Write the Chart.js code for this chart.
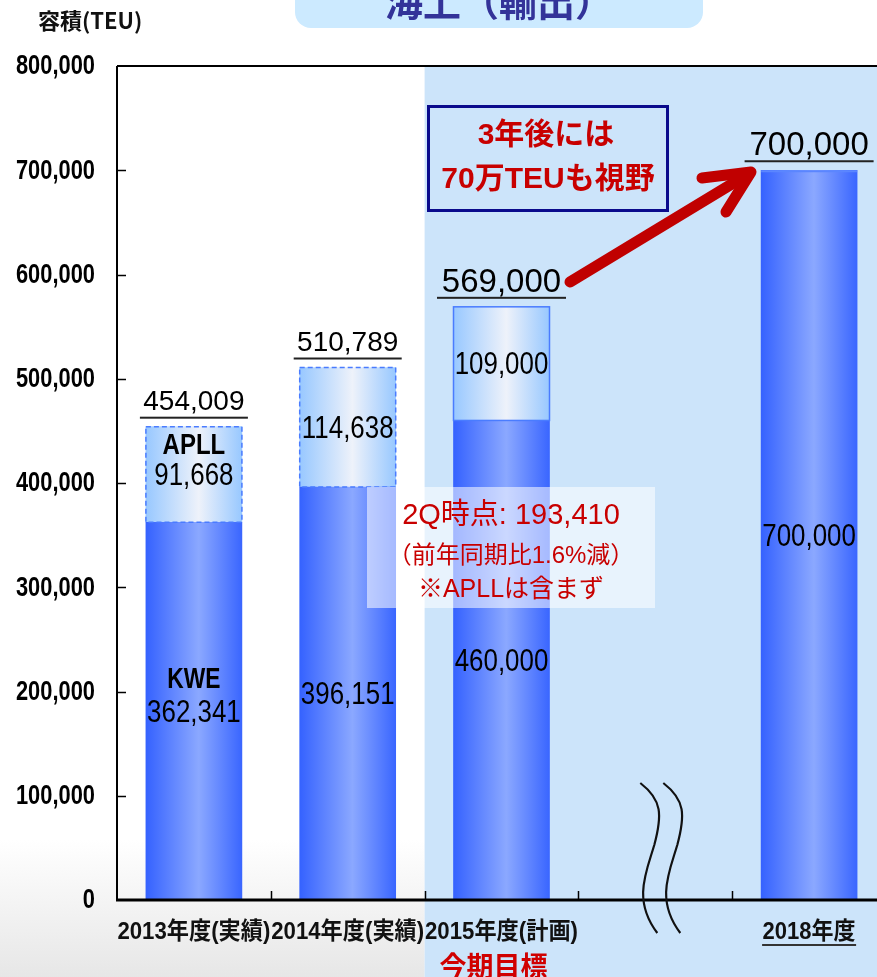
<!DOCTYPE html>
<html>
<head>
<meta charset="utf-8">
<script src="https://cdn.jsdelivr.net/npm/chart.js@4"></script>
<style>
  html, body { margin: 0; padding: 0; overflow: hidden; background: #fff; }
  #wrap { width: 900px; height: 977px; }
</style>
</head>
<body>
<div id="wrap"><canvas id="chart" width="900" height="977"></canvas></div>
<script>
const categories = ["2013年度(実績)", "2014年度(実績)", "2015年度(計画)", "", "2018年度"];
const kweValues = [362341, 396151, 460000, null, 700000];
const apllValues = [91668, 114638, 109000, null, null];
const totalValues = [454009, 510789, 569000, null, 700000];
const yMax = 800000;
const yStep = 100000;
const planIndex = 2;
const breakIndex = 3;

const SANS = '"Liberation Sans", "Noto Sans CJK JP", sans-serif';
const CJK = '"Noto Sans CJK JP", sans-serif';
const RED = "#c80000";

function fmt(v) {
  return v.toLocaleString("en-US");
}

function barGradient(ctx, stops) {
  const chart = ctx.chart;
  if (!chart.chartArea) return stops[1];
  const x = chart.scales.x.getPixelForValue(ctx.dataIndex);
  const g = chart.ctx.createLinearGradient(x - 48, 0, x + 48, 0);
  g.addColorStop(0, stops[0]);
  g.addColorStop(0.55, stops[1]);
  g.addColorStop(1, stops[2]);
  return g;
}

// draws text squeezed horizontally by sx (the original uses a condensed face)
function ntext(c, str, x, y, font, color, align, sx) {
  c.save();
  c.font = font;
  c.fillStyle = color;
  c.textAlign = align || "center";
  c.textBaseline = "middle";
  c.translate(x, y);
  c.scale(sx || 1, 1);
  c.fillText(str, 0, 0);
  c.restore();
}

// squeezes text so that it is at most `width` wide
function fitText(c, str, x, y, font, color, width, align) {
  c.font = font;
  const w = c.measureText(str).width;
  ntext(c, str, x, y, font, color, align, Math.min(1, width / w));
}

const decorPlugin = {
  id: "decor",
  beforeDraw(chart) {
    const c = chart.ctx;
    const area = chart.chartArea;
    const x = chart.scales.x;
    const splitX = (x.getPixelForValue(1) + x.getPixelForValue(2)) / 2;
    c.save();
    c.fillStyle = "#fff";
    c.fillRect(0, 0, chart.width, chart.height);
    // soft grey fade at bottom left
    const fade = c.createLinearGradient(0, 840, 0, chart.height);
    fade.addColorStop(0, "rgba(228,228,228,0)");
    fade.addColorStop(1, "rgba(228,228,228,0.9)");
    c.fillStyle = fade;
    c.fillRect(0, 840, splitX, chart.height - 840);
    // blue target region
    c.fillStyle = "#cce4fa";
    c.fillRect(splitX, area.top, chart.width - splitX, chart.height - area.top);
    // title tab
    c.fillStyle = "#cceaff";
    c.beginPath();
    c.roundRect(295, -30, 408, 58, 16);
    c.fill();
    c.save();
    c.beginPath();
    c.rect(295, 0, 408, 28);
    c.clip();
    ntext(c, "海上（輸出）", 499, 2, "bold 38px " + CJK, "#333399", "center", 1);
    c.restore();
    fitText(c, "容積(TEU)", 38, 21, "bold 22px " + CJK, "#111", 122, "left");
    c.restore();
  },
  afterDatasetsDraw(chart) {
    const c = chart.ctx;
    const area = chart.chartArea;
    const xs = chart.scales.x;
    const ys = chart.scales.y;
    const kweMeta = chart.getDatasetMeta(0);
    const apllMeta = chart.getDatasetMeta(1);
    c.save();

    // APLL borders (dashed for actuals, solid for plan)
    apllMeta.data.forEach((bar, i) => {
      if (apllValues[i] == null) return;
      c.strokeStyle = "#4a7cff";
      c.lineWidth = 1.5;
      c.setLineDash(i === planIndex ? [] : [5, 3]);
      c.strokeRect(bar.x - bar.width / 2, bar.y, bar.width, bar.base - bar.y);
    });
    c.setLineDash([]);
    // thin top edge on the 2018 bar
    const lastBar = kweMeta.data[categories.length - 1];
    c.fillStyle = "#5b86ff";
    c.fillRect(lastBar.x - lastBar.width / 2, lastBar.y, lastBar.width, 2);

    // KWE labels
    kweMeta.data.forEach((bar, i) => {
      if (kweValues[i] == null) return;
      const mid = (bar.y + bar.base) / 2;
      if (i === 0) {
        ntext(c, "KWE", bar.x, mid - 31, "bold 30px " + SANS, "#000", "center", 0.76);
      }
      ntext(c, fmt(kweValues[i]), bar.x, mid + 2, "32px " + SANS, "#000", "center", 0.81);
    });

    // APLL labels
    apllMeta.data.forEach((bar, i) => {
      if (apllValues[i] == null) return;
      const mid = (bar.y + bar.base) / 2;
      if (i === 0) {
        ntext(c, "APLL", bar.x, mid - 29, "bold 30px " + SANS, "#000", "center", 0.8);
      }
      ntext(c, fmt(apllValues[i]), bar.x, mid + 2, "32px " + SANS, "#000", "center", 0.81);
    });

    // totals above bars, underlined
    totalValues.forEach((v, i) => {
      if (v == null) return;
      const top = ys.getPixelForValue(v);
      const cx = xs.getPixelForValue(i);
      const big = i >= planIndex;
      const size = big ? 33 : 28;
      const w = big ? 125 : 104;
      fitText(c, fmt(v), cx, top - 24, size + "px " + SANS, "#000", w);
      c.fillStyle = "#222";
      c.fillRect(cx - w / 2 - 2, top - 10, w + 4, 2);
    });

    // y tick labels from the scale
    ys.ticks.forEach((t) => {
      ntext(c, fmt(t.value), area.left - 22, ys.getPixelForValue(t.value) + 1, "bold 27px " + SANS, "#000", "right", 0.81);
    });
    // x category labels from the scale
    categories.forEach((lab, i) => {
      if (!lab) return;
      const cx = xs.getPixelForValue(i);
      const last = i === categories.length - 1;
      fitText(c, lab, cx, area.bottom + 32, "bold 24px " + SANS, "#111", last ? 93 : 153);
      if (last) {
        c.fillStyle = "#333";
        c.fillRect(cx - 47, area.bottom + 44, 94, 2);
      }
    });

    // frame lines
    c.strokeStyle = "#000";
    c.lineWidth = 2;
    c.beginPath();
    c.moveTo(area.left, area.top);
    c.lineTo(area.right, area.top);
    c.moveTo(area.left, area.top);
    c.lineTo(area.left, area.bottom + 1);
    c.stroke();
    c.lineWidth = 3;
    c.beginPath();
    c.moveTo(area.left - 1, area.bottom);
    c.lineTo(area.right, area.bottom);
    c.stroke();
    // inner ticks
    c.lineWidth = 1.5;
    c.beginPath();
    for (let v = yStep; v < yMax; v += yStep) {
      const y = Math.round(ys.getPixelForValue(v)) + 0.5;
      c.moveTo(area.left, y);
      c.lineTo(area.left + 9, y);
    }
    for (let i = 0; i < categories.length - 1; i++) {
      const bx = Math.round((xs.getPixelForValue(i) + xs.getPixelForValue(i + 1)) / 2) + 0.5;
      c.moveTo(bx, area.bottom);
      c.lineTo(bx, area.bottom - 9);
    }
    c.stroke();

    // axis break marks
    const bc = xs.getPixelForValue(breakIndex);
    c.lineWidth = 2.2;
    c.strokeStyle = "#111";
    [-15, 8].forEach((dx) => {
      const x0 = bc + dx;
      c.beginPath();
      c.moveTo(x0, 783);
      c.bezierCurveTo(x0 + 22, 800, x0 + 22, 815, x0 + 14, 845);
      c.bezierCurveTo(x0 + 6, 872, x0 - 8, 900, x0 + 17, 933);
      c.stroke();
    });

    // 2Q note box
    c.fillStyle = "rgba(255,255,255,0.55)";
    c.fillRect(367, 487, 288, 121);
    const noteX = 511;
    fitText(c, "2Q時点: 193,410", noteX, 516, "29px " + SANS, RED, 220);
    fitText(c, "（前年同期比1.6%減）", noteX, 556, "24px " + SANS, RED, 268);
    fitText(c, "※APLLは含まず", noteX, 590, "25px " + SANS, RED, 192);

    // target callout box
    c.strokeStyle = "#0a0a8c";
    c.lineWidth = 3;
    c.strokeRect(428.5, 106.5, 239, 104);
    fitText(c, "3年後には", 546, 136, "bold 30px " + SANS, RED, 140);
    fitText(c, "70万TEUも視野", 548, 180, "bold 30px " + SANS, RED, 219);

    // arrow to 2018
    c.strokeStyle = "#c00000";
    c.lineWidth = 11;
    c.lineCap = "round";
    c.lineJoin = "round";
    c.beginPath();
    c.moveTo(570, 282);
    c.lineTo(745, 176);
    c.stroke();
    c.beginPath();
    c.moveTo(702, 178);
    c.lineTo(751, 172);
    c.lineTo(726, 212);
    c.stroke();
    c.lineCap = "butt";

    ntext(c, "今期目標", xs.getPixelForValue(planIndex) - 8, 966, "bold 27px " + CJK, "#d00000", "center", 1);

    c.restore();
  }
};

new Chart(document.getElementById("chart"), {
  type: "bar",
  data: {
    labels: categories,
    datasets: [
      {
        label: "KWE",
        data: kweValues,
        backgroundColor: (ctx) => barGradient(ctx, ["#3562ff", "#8ba8ff", "#3a66ff"]),
        borderWidth: 0,
        barThickness: 96,
        stack: "s"
      },
      {
        label: "APLL",
        data: apllValues,
        backgroundColor: (ctx) => barGradient(ctx, ["#98c8ff", "#eef2fa", "#98c8ff"]),
        borderWidth: 0,
        barThickness: 96,
        stack: "s"
      }
    ]
  },
  options: {
    responsive: false,
    animation: false,
    devicePixelRatio: 1,
    layout: { padding: { top: 66, right: 14, left: 0, bottom: 0 } },
    plugins: {
      legend: { display: false },
      tooltip: { enabled: false }
    },
    scales: {
      x: {
        stacked: true,
        grid: { display: false },
        border: { display: false },
        afterFit: (scale) => { scale.height = 77; },
        ticks: { display: false, autoSkip: false }
      },
      y: {
        stacked: true,
        min: 0,
        max: yMax,
        grid: { display: false },
        border: { display: false },
        afterFit: (scale) => { scale.width = 117; },
        ticks: { display: false, stepSize: yStep }
      }
    }
  },
  plugins: [decorPlugin]
});
</script>
</body>
</html>
